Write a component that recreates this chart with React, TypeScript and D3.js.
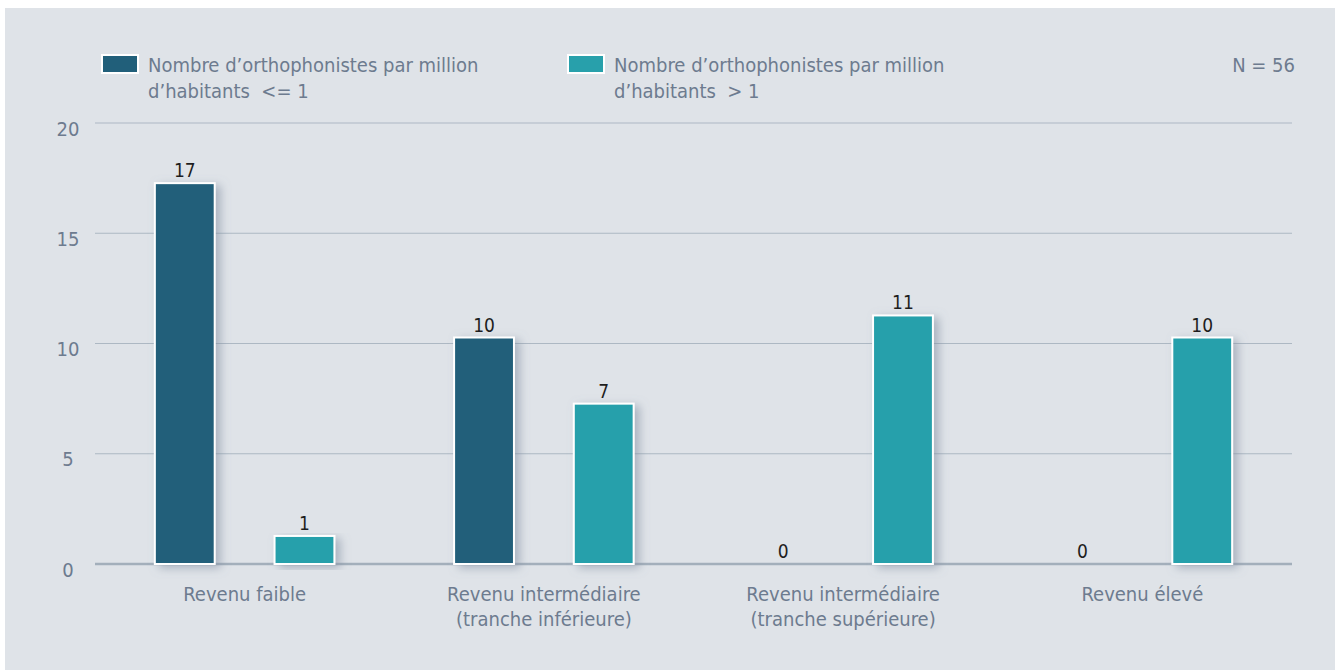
import * as React from 'react';
import * as d3 from 'd3';

const categories = [
  ['Revenu faible'],
  ['Revenu intermédiaire', '(tranche inférieure)'],
  ['Revenu intermédiaire', '(tranche supérieure)'],
  ['Revenu élevé'],
];
const seriesNames = [
  ['Nombre d’orthophonistes par million', 'd’habitants  <= 1'],
  ['Nombre d’orthophonistes par million', 'd’habitants  > 1'],
];
const lowValues = [17, 10, 0, 0];
const highValues = [1, 7, 11, 10];
const yTicks = [0, 5, 10, 15, 20];

const colors = ['#215f7a', '#28a0ab'];
const FONT = '"Liberation Sans Narrow", "DejaVu Sans Condensed", sans-serif';
const GREY_TEXT = '#6d7b8f';

const W = 1335;
const H = 672;
const margin = { left: 95, right: 43, top: 123, bottom: 108 };

const App = () => {
  const x = d3
    .scaleBand()
    .domain(categories.map((d, i) => String(i)))
    .range([margin.left, W - margin.right]);
  const y = d3
    .scaleLinear()
    .domain([0, 20])
    .range([H - margin.bottom, margin.top]);
  const step = x.bandwidth();
  const inner = d3
    .scaleBand()
    .domain(['0', '1'])
    .range([step * 0.2, step * 0.8])
    .paddingInner(0.5)
    .paddingOuter(0);
  const barW = inner.bandwidth();
  const lift = 6;

  const series = [lowValues, highValues];

  return (
    <div style={{ position: 'fixed', left: 0, top: 0 }}>
      <svg width={W} height={H} style={{ display: 'block' }}>
        <defs>
          <filter id='shadow' x='-30%' y='-10%' width='180%' height='130%'>
            <feDropShadow dx='5' dy='3' stdDeviation='5' floodColor='#7d8a9e' floodOpacity='0.55' />
          </filter>
        </defs>
        <rect x={5} y={8} width={W - 5} height={H - 10} fill='#dfe3e8' />

        {yTicks.map((t) => (
          <g key={t}>
            <line
              x1={margin.left}
              x2={W - margin.right}
              y1={y(t)}
              y2={y(t)}
              stroke={t === 0 ? '#a3afbb' : '#adb8c3'}
              strokeWidth={t === 0 ? 2.5 : 1.2}
            />
            <text
              x={68}
              y={y(t) + 7}
              textAnchor='middle'
              dominantBaseline='middle'
              fontFamily={FONT}
              fontSize={20}
              fill={GREY_TEXT}>
              {t}
            </text>
          </g>
        ))}

        {categories.map((c, i) => (
          <g key={i}>
            {series.map((vals, s) => {
              const v = vals[i];
              const bx = (x(String(i)) as number) + (inner(String(s)) as number);
              const top = v > 0 ? y(v) - lift : y(0);
              return (
                <g key={s}>
                  {v > 0 && (
                    <rect
                      x={bx}
                      y={top}
                      width={barW}
                      height={y(0) - top}
                      fill={colors[s]}
                      stroke='#ffffff'
                      strokeWidth={2}
                      filter='url(#shadow)'
                    />
                  )}
                  <text
                    x={bx + barW / 2}
                    y={top - 6}
                    textAnchor='middle'
                    fontFamily={FONT}
                    fontSize={19}
                    fill='#1e1e1e'>
                    {v}
                  </text>
                </g>
              );
            })}
            {c.map((line, k) => (
              <text
                key={k}
                x={(x(String(i)) as number) + step / 2}
                y={y(0) + 37 + k * 25}
                textAnchor='middle'
                fontFamily={FONT}
                fontSize={20}
                fill={GREY_TEXT}>
                {line}
              </text>
            ))}
          </g>
        ))}

        {seriesNames.map((lines, s) => {
          const lx = s === 0 ? 102 : 568;
          return (
            <g key={s}>
              <rect x={lx} y={55} width={36} height={18} fill={colors[s]} stroke='#ffffff' strokeWidth={2} />
              {lines.map((line, k) => (
                <text
                  key={k}
                  x={lx + 46}
                  y={72 + k * 26}
                  fontFamily={FONT}
                  fontSize={20}
                  fill={GREY_TEXT}
                  style={{ whiteSpace: 'pre' }}>
                  {line}
                </text>
              ))}
            </g>
          );
        })}

        <text
          x={1295}
          y={72}
          textAnchor='end'
          fontFamily={FONT}
          fontSize={20}
          fill={GREY_TEXT}>
          N = 56
        </text>
      </svg>
    </div>
  );
};

export default App;
